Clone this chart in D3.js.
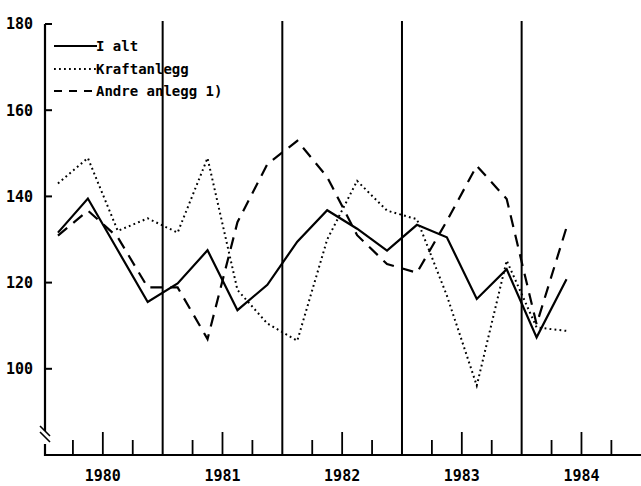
<!DOCTYPE html>
<meta charset="utf-8">
<head>
<script src="https://d3js.org/d3.v7.min.js"></script>
<style>
  body { margin: 0; background: #fff; overflow: hidden; }
  svg { display: block; }
  text { font-family: "DejaVu Sans Mono", monospace; fill: #000; }
</style>
</head>
<body>
<svg width="641" height="486"></svg>
<script>
// quarterly index values, 1980 Q1 .. 1984 Q2
var years = [1980, 1981, 1982, 1983, 1984];
var quarters = ["1980K1","1980K2","1980K3","1980K4","1981K1","1981K2","1981K3","1981K4",
                "1982K1","1982K2","1982K3","1982K4","1983K1","1983K2","1983K3","1983K4",
                "1984K1","1984K2"];
var iAlt        = [131.6, 139.5, 127.5, 115.5, 119.8, 127.5, 113.6, 119.5,
                   129.5, 136.8, 132.5, 127.4, 133.4, 130.5, 116.2, 123.1, 107.3, 120.8];
var kraftanlegg = [143.0, 148.9, 132.0, 134.9, 131.6, 148.9, 118.3, 110.5,
                   106.5, 130.0, 143.6, 136.7, 134.7, 117.0, 96.1, 125.1, 109.6, 108.8];
var andreAnlegg = [130.9, 136.7, 130.5, 118.9, 118.9, 106.9, 134.0, 147.5,
                   152.9, 144.5, 131.0, 124.3, 122.3, 134.3, 147.1, 139.4, 110.3, 132.8];
var yTicks = [100, 120, 140, 160, 180];
var legendNames = ["I alt", "Kraftanlegg", "Andre anlegg 1)"];

var svg = d3.select("svg");

var x = d3.scaleLinear().domain([1980, 1985]).range([43, 641.3]);
var y = d3.scaleLinear().domain([80, 180]).range([455, 24]);

// time of each quarter (centre of quarter)
function qTime(i) { return 1980 + Math.floor(i / 4) + ((i % 4) + 0.5) / 4; }

var axisLeftX = 45;

// y axis line with break
svg.append("line").attr("x1", axisLeftX).attr("x2", axisLeftX)
    .attr("y1", y(180)).attr("y2", 431)
    .attr("stroke", "#000").attr("stroke-width", 2.2);
svg.append("line").attr("x1", axisLeftX).attr("x2", axisLeftX)
    .attr("y1", 444).attr("y2", y(80) + 1)
    .attr("stroke", "#000").attr("stroke-width", 2.2);
[0, 6].forEach(function (o) {
    svg.append("line")
        .attr("x1", 40).attr("y1", 426 + o)
        .attr("x2", 50).attr("y2", 436 + o)
        .attr("stroke", "#000").attr("stroke-width", 1.6);
});

// y ticks + labels
svg.selectAll(".ytick").data(yTicks).enter().append("line")
    .attr("x1", axisLeftX).attr("x2", axisLeftX + 7)
    .attr("y1", function (d) { return y(d); })
    .attr("y2", function (d) { return y(d); })
    .attr("stroke", "#000").attr("stroke-width", 2);
svg.selectAll(".ylab").data(yTicks).enter().append("text")
    .attr("x", 33)
    .attr("y", function (d) { return y(d); })
    .attr("dy", "0.36em")
    .attr("text-anchor", "end")
    .style("font-size", "15px")
    .style("font-weight", "bold")
    .text(function (d) { return d; });

// x axis line
svg.append("line").attr("x1", axisLeftX).attr("x2", 641)
    .attr("y1", y(80)).attr("y2", y(80))
    .attr("stroke", "#000").attr("stroke-width", 2.2);

// quarter ticks
var qTicks = [];
years.forEach(function (yr) {
    [0.25, 0.5, 0.75].forEach(function (f) { qTicks.push({ t: yr + f, tall: f == 0.5 }); });
});
svg.selectAll(".qtick").data(qTicks).enter().append("line")
    .attr("x1", function (d) { return x(d.t); })
    .attr("x2", function (d) { return x(d.t); })
    .attr("y1", function (d) { return d.tall ? 432 : 440; })
    .attr("y2", y(80))
    .attr("stroke", "#000").attr("stroke-width", 1.8);

// year boundary lines
svg.selectAll(".yline").data(years.slice(1)).enter().append("line")
    .attr("x1", function (d) { return x(d); })
    .attr("x2", function (d) { return x(d); })
    .attr("y1", 21).attr("y2", y(80))
    .attr("stroke", "#000").attr("stroke-width", 2);

// year labels
svg.selectAll(".xlab").data(years).enter().append("text")
    .attr("x", function (d) { return x(d + 0.5); })
    .attr("y", 481)
    .attr("text-anchor", "middle")
    .style("font-size", "15px")
    .style("font-weight", "bold")
    .text(function (d) { return d; });

// series
var line = d3.line()
    .x(function (d, i) { return x(qTime(i)); })
    .y(function (d) { return y(d); });

var styles = [
    { data: iAlt, dash: null, width: 2.2 },
    { data: kraftanlegg, dash: "1.8,3.2", width: 2 },
    { data: andreAnlegg, dash: "12,8", width: 2.2 }
];

styles.forEach(function (s) {
    svg.append("path")
        .datum(s.data)
        .attr("d", line)
        .attr("fill", "none")
        .attr("stroke", "#000")
        .attr("stroke-width", s.width)
        .attr("stroke-dasharray", s.dash);
});

// legend
var legendY = [46, 69, 91];
var legendDash = [null, "1.8,3.2", "8,7"];
legendNames.forEach(function (n, i) {
    svg.append("line")
        .attr("x1", 54).attr("x2", 97)
        .attr("y1", legendY[i]).attr("y2", legendY[i])
        .attr("stroke", "#000").attr("stroke-width", 2)
        .attr("stroke-dasharray", legendDash[i]);
    svg.append("text")
        .attr("x", 96).attr("y", legendY[i])
        .attr("dy", "0.36em")
        .style("font-size", "14px")
        .style("font-weight", "bold")
        .text(n);
});
</script>
</body>
